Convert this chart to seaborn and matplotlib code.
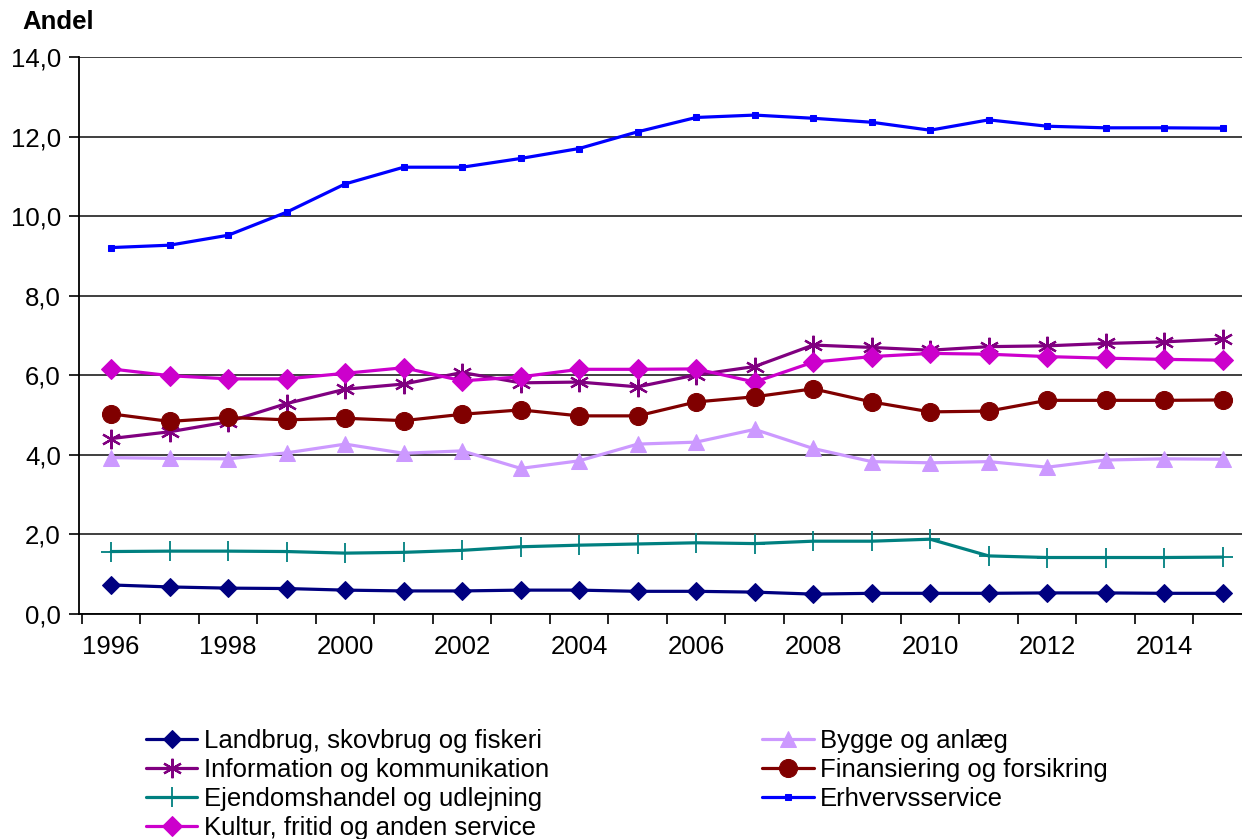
import matplotlib
matplotlib.use("Agg")
import matplotlib.pyplot as plt
import seaborn as sns
import pandas as pd
from matplotlib.ticker import FixedLocator, FuncFormatter

years = list(range(1996, 2016))

landbrug = [0.73, 0.68, 0.65, 0.64, 0.60, 0.58, 0.58, 0.60, 0.60, 0.57,
            0.57, 0.55, 0.50, 0.52, 0.52, 0.52, 0.53, 0.53, 0.52, 0.52]
information = [4.41, 4.58, 4.83, 5.29, 5.65, 5.78, 6.07, 5.81, 5.83, 5.71,
               6.01, 6.22, 6.76, 6.70, 6.63, 6.72, 6.74, 6.80, 6.84, 6.91]
ejendom = [1.57, 1.58, 1.58, 1.57, 1.53, 1.55, 1.60, 1.69, 1.73, 1.76,
           1.79, 1.77, 1.83, 1.83, 1.88, 1.46, 1.42, 1.42, 1.42, 1.43]
kultur = [6.16, 5.99, 5.91, 5.91, 6.05, 6.19, 5.86, 5.96, 6.15, 6.15,
          6.16, 5.83, 6.33, 6.47, 6.55, 6.53, 6.47, 6.43, 6.40, 6.38]
bygge = [3.93, 3.91, 3.90, 4.05, 4.27, 4.04, 4.10, 3.66, 3.85, 4.27,
         4.32, 4.64, 4.16, 3.83, 3.80, 3.83, 3.69, 3.87, 3.90, 3.89]
finans = [5.03, 4.84, 4.94, 4.88, 4.92, 4.86, 5.02, 5.13, 4.98, 4.98,
          5.33, 5.46, 5.66, 5.33, 5.08, 5.10, 5.37, 5.37, 5.37, 5.38]
erhverv = [9.21, 9.27, 9.52, 10.10, 10.81, 11.23, 11.23, 11.45, 11.70, 12.12,
           12.48, 12.54, 12.46, 12.36, 12.16, 12.42, 12.26, 12.22, 12.22, 12.21]

labels = ["Landbrug, skovbrug og fiskeri", "Information og kommunikation",
          "Ejendomshandel og udlejning", "Kultur, fritid og anden service",
          "Bygge og anlæg", "Finansiering og forsikring", "Erhvervsservice"]
series = [landbrug, information, ejendom, kultur, bygge, finans, erhverv]
y_ticks = [0, 2, 4, 6, 8, 10, 12, 14]
x_ticks = list(range(1996, 2015, 2))

sns.set_style("white")
plt.rcParams['font.family'] = ['Liberation Sans', 'DejaVu Sans']
plt.rcParams['text.color'] = 'black'
plt.rcParams['xtick.color'] = 'black'
plt.rcParams['ytick.color'] = 'black'
plt.rcParams['axes.labelcolor'] = 'black'
FS = 18.5

styles = [
    dict(color="#000080", marker="D", markersize=9, mec="#000080"),
    dict(color="#800080", marker=(6, 2, 0), markersize=14, mew=1.6, mec="#800080"),
    dict(color="#008080", marker="+", markersize=15, mew=1.3, mec="#008080"),
    dict(color="#CC00CC", marker="D", markersize=10, mec="#CC00CC"),
    dict(color="#CC99FF", marker="^", markersize=12, mec="#CC99FF"),
    dict(color="#800000", marker="o", markersize=13, mec="#800000"),
    dict(color="#0000FF", marker="s", markersize=4, mec="#0000FF"),
]

fig = plt.figure(figsize=(12.42, 8.39), dpi=100)
ax = fig.add_axes([79 / 1242, 1 - 614 / 839, 1 - 79 / 1242, (614 - 57) / 839])

for lab, vals, st in zip(labels, series, styles):
    df = pd.DataFrame({"year": years, "val": vals})
    sns.lineplot(data=df, x="year", y="val", ax=ax, label=lab, linewidth=2.3,
                 **st)

ax.set_xlim(1995.45, 1995.45 + (1242 - 79) / 58.5)
ax.set_ylim(0, 14)
ax.yaxis.set_major_locator(FixedLocator(y_ticks))
ax.yaxis.set_major_formatter(FuncFormatter(lambda v, p: f"{v:.1f}".replace(".", ",")))
ax.xaxis.set_major_locator(FixedLocator(x_ticks))
ax.xaxis.set_minor_locator(FixedLocator([y - 0.5 for y in years] + [2015.5]))
ax.tick_params(axis="x", which="major", length=0, labelsize=FS, pad=15)
ax.tick_params(axis="x", which="minor", length=7, width=1.2, direction="out", color="black", bottom=True)
ax.tick_params(axis="y", which="major", length=7, width=1.2, direction="out", color="black", labelsize=FS, pad=6, left=True)
ax.set_xlabel("")
ax.set_ylabel("")
ax.grid(axis="y", color="#303030", linewidth=1.3)
ax.set_axisbelow(True)
for s in ["top", "right"]:
    ax.spines[s].set_visible(False)
for s in ["left", "bottom"]:
    ax.spines[s].set_color("black")
    ax.spines[s].set_linewidth(1.3)

fig.text(22 / 1242, 1 - 22 / 839, "Andel", fontsize=FS, fontweight="bold", va="center", ha="left")

handles, labs = ax.get_legend_handles_labels()
ax.get_legend().remove()
fig.legend(handles, labs, ncol=2, loc="upper left",
           bbox_to_anchor=(146 / 1242, 1 - 729 / 839), frameon=False,
           fontsize=FS, borderpad=0, borderaxespad=0, handlelength=2.0,
           handletextpad=0.25, labelspacing=0.2, columnspacing=8.3)

fig.savefig("out.png", dpi=100)
